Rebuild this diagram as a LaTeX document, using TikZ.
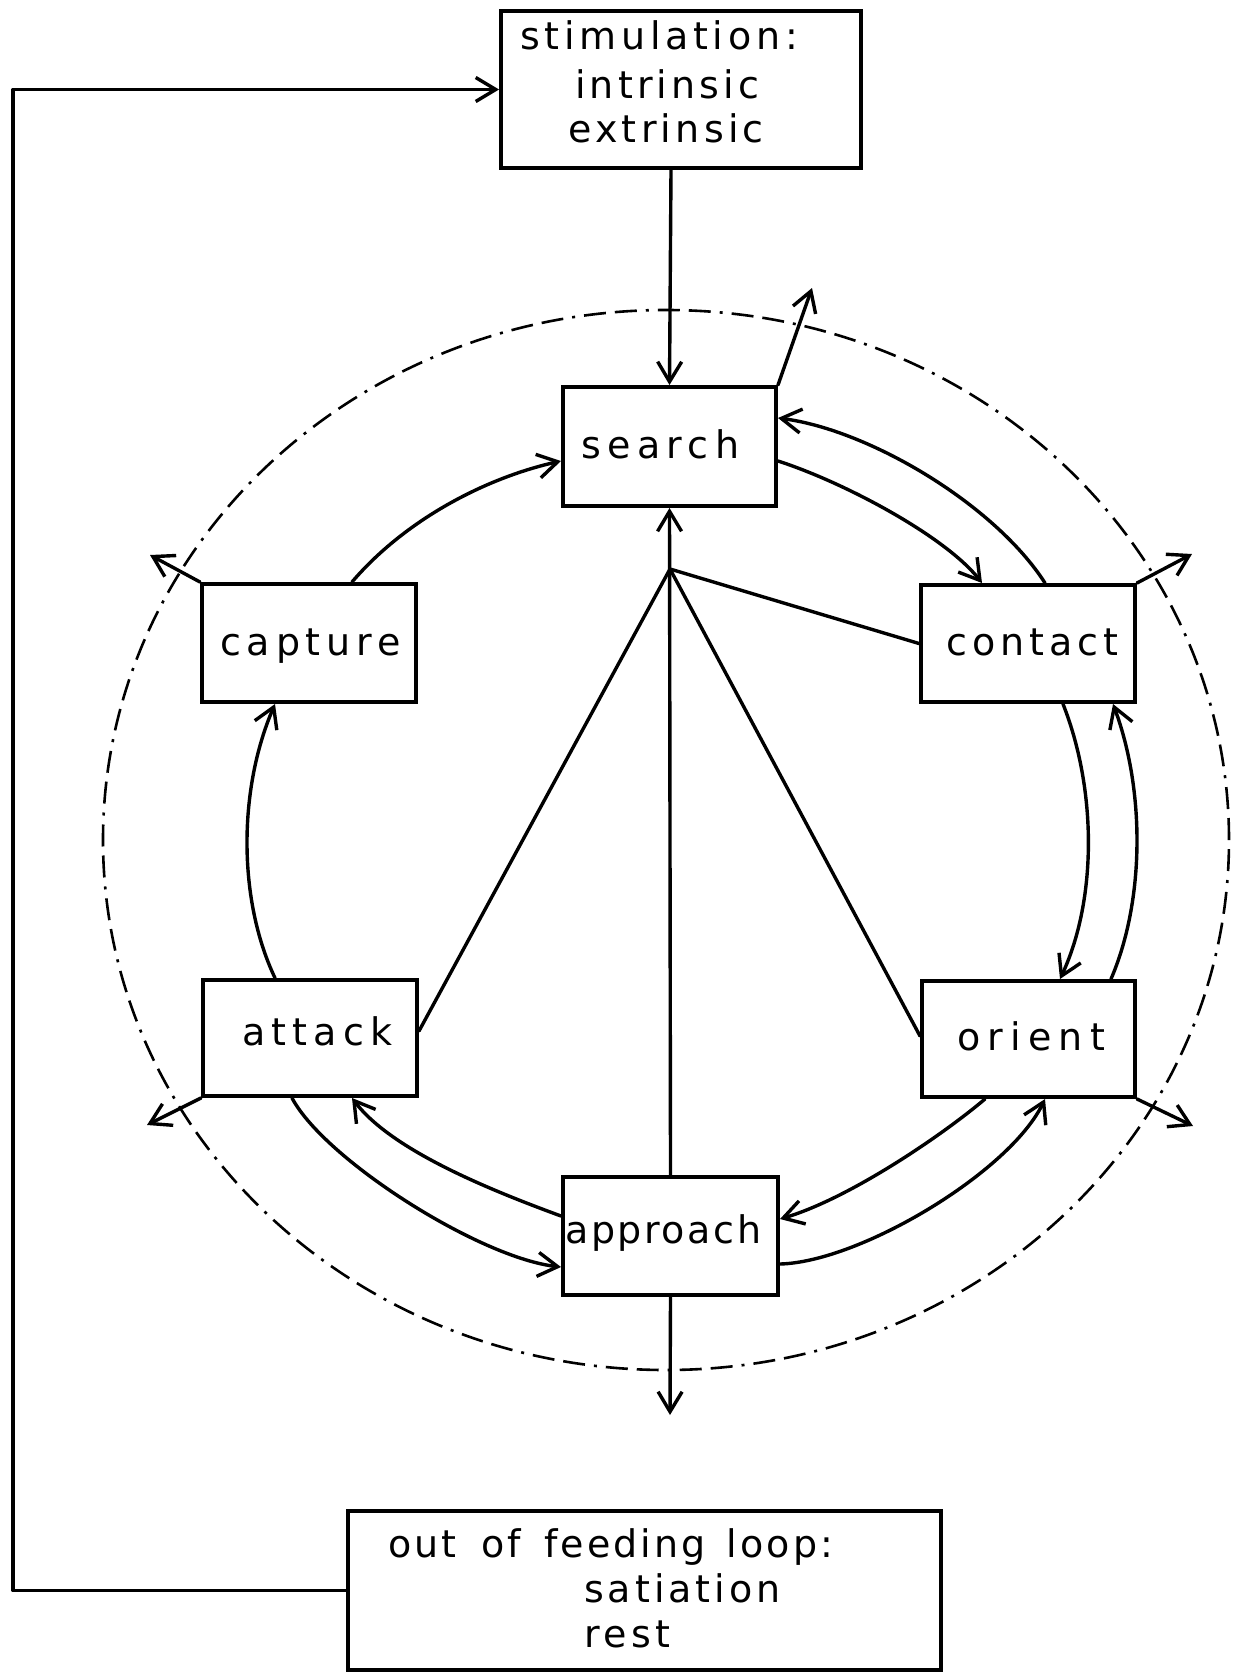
\documentclass[tikz,border=0pt]{standalone}
\usepackage{fontspec}
\usetikzlibrary{arrows.meta}
\newfontfamily\lab{DejaVu Sans}
\newcommand{\ls}[1]{\addfontfeature{LetterSpace=#1}}
\begin{document}
\begin{tikzpicture}[x=1pt,y=-1pt,
  box/.style={draw, line width=4pt, inner sep=0pt},
  lbl/.style={anchor=base west, inner sep=0pt, font=\lab\fontsize{38}{44}\selectfont},
  conn/.style={line width=3.4pt, line cap=round, line join=round, -{Straight Barb[length=20pt,width=24pt,line width=3.4pt]}},
  plain/.style={line width=3.4pt, line cap=round},
  ring/.style={line width=2.6pt, dash pattern=on 22pt off 9pt on 22pt off 9pt on 3pt off 9pt}
]
\useasboundingbox (0,0) rectangle (1236,1672);
\fill[white] (0,0) rectangle (1236,1672);

% boxes
\node[box, minimum width=360pt, minimum height=157pt] (stim) at (681,89.5) {};
\node[box, minimum width=213pt, minimum height=119pt] (search) at (669.5,446.5) {};
\node[box, minimum width=214pt, minimum height=118pt] (capture) at (309,643) {};
\node[box, minimum width=214pt, minimum height=117pt] (contact) at (1028,643.5) {};
\node[box, minimum width=214pt, minimum height=116pt] (attack) at (310,1038) {};
\node[box, minimum width=213pt, minimum height=116pt] (orient) at (1028.5,1039) {};
\node[box, minimum width=215pt, minimum height=118pt] (approach) at (670.5,1236) {};
\node[box, minimum width=593pt, minimum height=159pt] (out) at (644.5,1590.5) {};

% labels
\node[lbl] (stim1) at (520,50) {\ls{12.4}stimulation:};
\node[lbl] (stim2) at (575,99) {\ls{10.8}intrinsic};
\node[lbl] (stim3) at (568,143) {\ls{11.2}extrinsic};
\node[lbl] (searcht) at (581,458) {\ls{16.8}search};
\node[lbl] (capturet) at (220,655) {\ls{15.3}capture};
\node[lbl] (contactt) at (946,655) {\ls{13}contact};
\node[lbl] (attackt) at (242,1045) {\ls{16.3}attack};
\node[lbl] (orientt) at (957,1050) {\ls{19}orient};
\node[lbl] (approacht) at (565,1243) {\ls{6.8}approach};
\node[lbl] (out1) at (388,1557) {\ls{8}out\hspace{10pt} of\hspace{8pt} feeding\hspace{6pt} loop:};
\node[lbl] (out2) at (584,1602) {\ls{10.5}satiation};
\node[lbl] (out3) at (584,1647) {\ls{12}rest};

% dashed ring
\draw[ring] (666,840) ellipse [x radius=563pt, y radius=530pt];

% stimulation to search, feedback loop
\draw[conn] ([xshift=-10pt]stim.south) -- (search.north);
\coordinate (fb) at (13,1590.5);
\draw[conn] (out.west) -- (fb) |- (stim.west);

% central hub
\coordinate (hub) at (670,569);
\draw[conn] (approach.north) -- (search.south);
\draw[plain] (hub) -- (contact.west);
\draw[plain] (hub) -- ([yshift=7pt]attack.east);
\draw[plain] (hub) -- ([yshift=3pt]orient.west);

% exit arrows
\coordinate (e1) at (812,288);
\coordinate (e2) at (150,555);
\coordinate (e3) at (1192,554);
\coordinate (e4) at (147,1125);
\coordinate (e5) at (1193,1126);
\coordinate (e6) at (670,1415);
\draw[conn] (search.north east) -- (e1);
\draw[conn] (capture.north west) -- (e2);
\draw[conn] (contact.north east) -- (e3);
\draw[conn] (attack.south west) -- (e4);
\draw[conn] (orient.south east) -- (e5);
\draw[conn] (approach.south) -- (e6);

% cycle curves
\draw[conn] ([xshift=43pt]capture.north) .. controls (405,520) and (485,478) .. ([yshift=-14.5pt]search.west);
\draw[conn] ([yshift=-14.5pt]search.east) .. controls (846,483) and (946,537) .. ([xshift=-46pt]contact.north);
\draw[conn] ([xshift=17pt]contact.north) .. controls (995,505) and (870,430) .. ([yshift=28.5pt]search.east);
\draw[conn] ([xshift=35pt]contact.south) .. controls (1097,790) and (1097,900) .. ([xshift=31.5pt]orient.north);
\draw[conn] ([xshift=82.5pt]orient.north) .. controls (1145,900) and (1145,790) .. ([xshift=85pt]contact.south);
\draw[conn] ([xshift=-43.5pt]orient.south) .. controls (940,1137) and (848,1199) .. ([yshift=17pt]approach.east);
\draw[conn] ([yshift=-28pt]approach.east) .. controls (860,1262) and (1010,1172) .. ([xshift=16.5pt]orient.south);
\draw[conn] ([yshift=20pt]approach.west) .. controls (493,1191) and (392,1151) .. ([xshift=42pt]attack.south);
\draw[conn] ([xshift=-18pt]attack.south) .. controls (325,1160) and (480,1258) .. ([yshift=-31pt]approach.west);
\draw[conn] ([xshift=-35pt]attack.north) .. controls (238,900) and (238,790) .. ([xshift=-34pt]capture.south);
\end{tikzpicture}
\end{document}
